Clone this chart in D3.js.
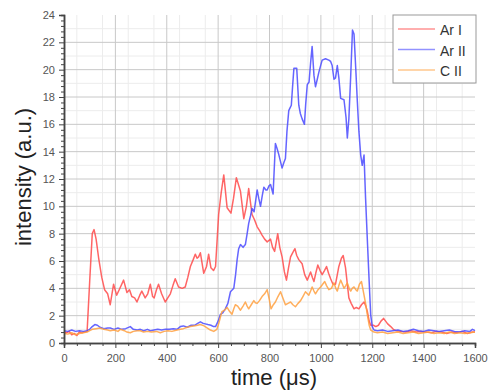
<!DOCTYPE html>
<html>
<head>
<meta charset="utf-8">
<script src="https://cdn.jsdelivr.net/npm/d3@7"></script>
<style>
  body { margin: 0; background: #fff; }
  text { font-family: "Liberation Sans", Arial, sans-serif; }
</style>
</head>
<body>
<figure id="chart" style="margin:0"></figure>
<script>
// time in microseconds, intensity in a.u.
const arI = [[0,0.8],[10,0.75],[20,0.85],[30,0.6],[40,0.7],[50,0.55],[60,0.8],[70,0.75],[80,0.8],[90,0.85],[100,4.5],[110,8.0],[117,8.3],[125,7.6],[135,6.2],[147,4.8],[158,3.9],[170,3.6],[180,2.8],[193,4.3],[205,3.5],[215,3.9],[232,4.6],[245,3.7],[255,3.9],[264,3.4],[275,3.3],[284,3.0],[295,3.5],[303,3.8],[316,3.3],[326,3.6],[336,4.3],[345,3.4],[351,3.3],[360,3.9],[368,4.3],[380,3.6],[394,3.0],[404,3.3],[414,3.6],[424,4.2],[433,4.7],[446,4.1],[460,4.0],[472,4.1],[482,4.8],[492,5.6],[503,6.1],[511,6.5],[518,6.2],[524,6.3],[531,6.6],[544,5.1],[555,5.6],[563,6.5],[572,5.5],[582,5.3],[590,5.6],[602,9.4],[612,11.0],[622,12.3],[635,9.9],[650,9.5],[660,10.6],[671,12.1],[687,11.1],[700,9.1],[710,10.0],[719,11.3],[732,9.4],[742,9.0],[752,8.5],[762,8.2],[771,7.9],[781,7.6],[791,7.4],[804,7.6],[812,7.0],[820,6.7],[832,8.0],[840,7.0],[849,6.3],[858,5.2],[866,4.6],[874,5.5],[882,6.3],[890,6.6],[899,6.9],[906,6.4],[914,6.1],[927,5.8],[937,5.0],[947,4.6],[960,5.2],[967,4.8],[973,4.5],[980,5.1],[988,5.7],[997,5.3],[1005,5.0],[1014,5.3],[1022,5.6],[1030,5.1],[1038,4.7],[1047,4.3],[1057,4.3],[1064,5.0],[1070,5.6],[1080,6.2],[1087,6.4],[1096,5.5],[1103,4.3],[1109,3.3],[1118,2.9],[1129,2.5],[1138,2.6],[1148,2.5],[1158,2.8],[1168,3.0],[1175,2.7],[1181,2.3],[1188,1.6],[1194,1.3],[1204,1.3],[1214,1.2],[1224,1.3],[1234,1.6],[1244,1.8],[1252,1.6],[1260,1.4],[1272,1.2],[1282,1.0],[1292,0.9],[1310,0.85],[1330,0.8],[1350,0.9],[1370,0.8],[1390,0.85],[1410,0.8],[1430,0.75],[1450,0.85],[1470,0.8],[1490,0.7],[1510,0.8],[1530,0.75],[1550,0.85],[1570,0.7],[1590,0.8],[1600,0.8]];

const arII = [[0,0.9],[15,0.85],[30,0.95],[45,0.85],[60,0.9],[75,0.85],[90,0.9],[100,1.0],[110,1.2],[120,1.35],[130,1.3],[140,1.15],[155,1.05],[170,1.1],[180,1.1],[195,1.0],[210,1.1],[225,1.0],[240,1.05],[258,1.2],[270,1.0],[285,0.95],[297,1.0],[310,0.9],[325,1.0],[336,0.9],[350,0.95],[365,1.0],[380,0.95],[395,1.0],[410,1.0],[425,1.05],[440,1.0],[453,1.2],[465,1.25],[480,1.15],[495,1.3],[510,1.3],[522,1.45],[531,1.55],[540,1.45],[550,1.4],[560,1.35],[572,1.3],[582,1.2],[590,1.2],[600,1.6],[609,2.1],[618,2.2],[628,2.5],[638,2.9],[648,3.75],[661,4.0],[668,5.0],[674,6.1],[680,6.9],[687,7.2],[697,7.0],[706,7.2],[713,8.0],[719,8.75],[726,9.3],[732,9.85],[740,9.6],[746,10.4],[752,11.2],[758,10.6],[765,10.0],[772,10.8],[778,11.4],[786,11.2],[791,11.2],[798,11.5],[804,11.6],[814,10.9],[823,14.6],[830,14.2],[836,13.8],[849,12.8],[856,13.2],[862,13.5],[868,15.5],[875,17.0],[880,17.2],[885,17.4],[890,18.8],[895,20.1],[906,20.1],[914,17.4],[920,16.8],[927,16.4],[936,16.0],[941,17.5],[947,18.9],[954,19.1],[960,20.5],[966,21.7],[973,19.6],[979,18.75],[986,19.3],[992,19.8],[999,20.3],[1005,20.7],[1018,20.8],[1031,20.7],[1038,20.6],[1044,20.3],[1051,19.3],[1057,19.4],[1064,20.3],[1070,19.4],[1077,17.9],[1090,17.8],[1098,16.5],[1103,15.0],[1109,16.4],[1116,19.5],[1123,22.9],[1129,22.6],[1136,20.0],[1142,17.65],[1148,15.5],[1155,13.75],[1161,13.0],[1168,13.75],[1174,10.6],[1181,7.5],[1188,4.5],[1194,2.05],[1200,1.2],[1207,0.95],[1220,0.9],[1240,0.95],[1260,0.85],[1280,0.9],[1300,0.95],[1320,0.85],[1340,0.9],[1360,1.0],[1380,0.9],[1400,0.85],[1420,0.95],[1440,0.9],[1460,0.85],[1480,0.9],[1500,0.95],[1520,0.85],[1540,0.8],[1560,0.9],[1580,0.85],[1590,1.0],[1600,0.9]];

const cII = [[0,0.7],[15,0.65],[30,0.75],[45,0.6],[60,0.7],[75,0.75],[90,0.8],[100,0.9],[110,1.0],[125,1.05],[140,1.1],[155,1.0],[170,0.95],[180,0.9],[195,0.95],[210,0.85],[219,1.0],[235,0.9],[245,0.8],[258,0.75],[270,0.85],[285,0.9],[297,0.9],[310,0.8],[325,0.85],[340,0.8],[360,0.85],[375,0.75],[390,0.85],[405,0.9],[420,0.85],[440,0.95],[453,1.0],[465,1.05],[480,1.15],[492,1.2],[505,1.25],[520,1.3],[531,1.35],[545,1.25],[557,1.1],[570,0.95],[583,0.85],[595,1.0],[602,1.4],[609,1.9],[615,2.3],[625,2.4],[635,2.6],[645,2.3],[654,2.1],[661,2.5],[667,2.8],[676,2.7],[687,2.4],[697,2.7],[706,3.0],[713,2.7],[719,2.5],[729,2.8],[739,3.1],[745,2.95],[752,2.9],[761,3.1],[771,3.4],[781,3.6],[791,3.9],[799,3.2],[806,2.5],[815,2.8],[823,3.0],[833,3.4],[843,3.75],[852,3.3],[862,2.8],[872,2.9],[882,3.0],[891,2.8],[901,2.65],[911,2.9],[921,3.1],[930,3.4],[940,3.75],[953,3.5],[960,3.8],[966,4.1],[973,3.8],[979,3.6],[989,3.9],[999,4.1],[1007,4.3],[1015,4.5],[1022,4.2],[1031,3.9],[1041,4.0],[1051,4.4],[1058,4.0],[1064,3.8],[1070,4.2],[1077,4.6],[1084,4.3],[1090,4.0],[1097,4.2],[1103,4.4],[1110,4.0],[1116,3.8],[1122,4.0],[1129,4.1],[1136,3.9],[1142,3.8],[1150,4.3],[1158,4.5],[1163,4.0],[1168,3.5],[1174,2.9],[1181,2.05],[1188,1.3],[1194,0.95],[1207,0.8],[1220,0.75],[1240,0.8],[1260,0.7],[1280,0.75],[1300,0.8],[1320,0.7],[1340,0.75],[1360,0.8],[1380,0.7],[1400,0.75],[1420,0.8],[1440,0.7],[1460,0.75],[1480,0.7],[1500,0.8],[1520,0.7],[1540,0.75],[1560,0.7],[1580,0.75],[1600,0.8]];

const seriesNames = ["Ar I", "Ar II", "C II"];
const seriesColors = ["#ff4a4a", "#4a4aff", "#ffa040"];
const xTicks = [0, 200, 400, 600, 800, 1000, 1200, 1400, 1600];
const yTicks = [0, 2, 4, 6, 8, 10, 12, 14, 16, 18, 20, 22, 24];

const width = 489, height = 390;
const margin = {top: 15, right: 14, bottom: 47, left: 64};

const svg = d3.select("figure#chart")
  .append("svg")
  .attr("width", width)
  .attr("height", height);

const x = d3.scaleLinear().domain([0, 1600]).range([margin.left, width - margin.right]);
const y = d3.scaleLinear().domain([0, 24]).range([height - margin.bottom, margin.top]);

// minor grid
svg.append("g")
  .selectAll("line")
  .data(d3.range(50, 1600, 100))
  .enter().append("line")
  .attr("x1", d => x(d)).attr("x2", d => x(d))
  .attr("y1", y(0)).attr("y2", y(24))
  .attr("stroke", "#ececec");
svg.append("g")
  .selectAll("line")
  .data(d3.range(1, 24, 2))
  .enter().append("line")
  .attr("x1", x(0)).attr("x2", x(1600))
  .attr("y1", d => y(d)).attr("y2", d => y(d))
  .attr("stroke", "#ececec");

// major grid
svg.append("g")
  .selectAll("line")
  .data(xTicks.slice(1, -1))
  .enter().append("line")
  .attr("x1", d => x(d)).attr("x2", d => x(d))
  .attr("y1", y(0)).attr("y2", y(24))
  .attr("stroke", "#c8c8c8");
svg.append("g")
  .selectAll("line")
  .data(yTicks.slice(1, -1))
  .enter().append("line")
  .attr("x1", x(0)).attr("x2", x(1600))
  .attr("y1", d => y(d)).attr("y2", d => y(d))
  .attr("stroke", "#c8c8c8");

// lines
const line = d3.line()
  .x(d => x(d[0]))
  .y(d => y(d[1]));

[arI, arII, cII].forEach((s, i) => {
  svg.append("path")
    .datum(s)
    .attr("d", line)
    .attr("fill", "none")
    .attr("stroke", seriesColors[i])
    .attr("stroke-opacity", 0.85)
    .attr("stroke-width", 1.5)
    .attr("stroke-linejoin", "round");
});

// axes
svg.append("g")
  .attr("transform", "translate(0," + y(0) + ")")
  .call(d3.axisBottom(x).tickValues(xTicks).tickFormat(d3.format("d")).tickSize(5).tickPadding(6));
svg.append("g")
  .attr("transform", "translate(0," + y(0) + ")")
  .call(d3.axisBottom(x).tickValues(d3.range(50, 1600, 50).filter(d => d % 200 !== 0)).tickSize(3).tickFormat(""));

svg.append("g")
  .attr("transform", "translate(" + x(0) + ",0)")
  .call(d3.axisLeft(y).tickValues(yTicks).tickSize(5).tickPadding(4));
svg.append("g")
  .attr("transform", "translate(" + x(0) + ",0)")
  .call(d3.axisLeft(y).tickValues(d3.range(0, 24, 0.4).filter(d => Math.abs(d / 2 - Math.round(d / 2)) > 0.01)).tickSize(3).tickFormat(""));

svg.selectAll(".domain").attr("stroke", "#444").attr("stroke-width", 1.5);
svg.selectAll(".tick line").attr("stroke", "#444");
svg.selectAll(".tick text")
  .attr("fill", "#555")
  .style("font-size", "11px");

// axis titles
svg.append("text")
  .attr("transform", "translate(31," + (y(12) - 2) + ") rotate(-90)")
  .style("text-anchor", "middle")
  .style("font-size", "22px")
  .attr("fill", "#222")
  .text("intensity (a.u.)");

svg.append("text")
  .attr("x", 274)
  .attr("y", 385)
  .style("text-anchor", "middle")
  .style("font-size", "22px")
  .attr("fill", "#222")
  .text("time (μs)");

// legend
const legend = svg.append("g").attr("transform", "translate(393,15)");
legend.append("rect")
  .attr("width", 83).attr("height", 68)
  .attr("fill", "#fff")
  .attr("stroke", "#999");
seriesNames.forEach((name, i) => {
  legend.append("line")
    .attr("x1", 5).attr("x2", 42)
    .attr("y1", 14 + i * 20.5).attr("y2", 14 + i * 20.5)
    .attr("stroke", seriesColors[i])
    .attr("stroke-opacity", 0.6)
    .attr("stroke-width", 1.5);
  legend.append("text")
    .attr("x", 47)
    .attr("y", 20 + i * 20.5)
    .style("font-size", "14px")
    .attr("fill", "#333")
    .text(name);
});
</script>
</body>
</html>
